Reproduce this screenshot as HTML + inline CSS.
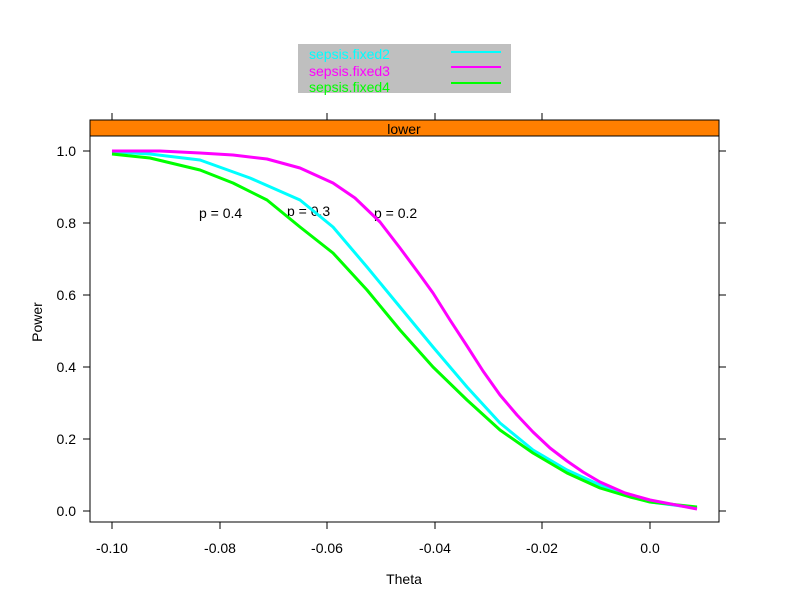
<!DOCTYPE html>
<html><head><meta charset="utf-8"><style>body{margin:0;background:#fff}svg{display:block}text{font-family:"Liberation Sans",Arial,sans-serif}</style></head>
<body>
<svg width="792" height="611" viewBox="0 0 792 611" xmlns="http://www.w3.org/2000/svg">
<rect width="792" height="611" fill="#fff"/>
<rect x="298" y="44" width="213" height="49" fill="#bfbfbf"/>
<text x="309" y="59" font-size="14" fill="#00ffff">sepsis.fixed2</text>
<text x="309" y="76" font-size="14" fill="#ff00ff">sepsis.fixed3</text>
<text x="309" y="92" font-size="14" fill="#00ff00">sepsis.fixed4</text>
<line x1="451" y1="52" x2="501" y2="52" stroke="#00ffff" stroke-width="2"/>
<line x1="451" y1="67" x2="501" y2="67" stroke="#ff00ff" stroke-width="2"/>
<line x1="451" y1="83" x2="501" y2="83" stroke="#00ff00" stroke-width="2"/>
<rect x="90" y="120" width="629" height="16" fill="#ff7f00" stroke="#000"/>
<text x="404" y="134" font-size="14" text-anchor="middle">lower</text>
<rect x="90" y="136" width="629" height="386" fill="none" stroke="#000"/>
<g stroke="#000">
<line x1="112" y1="113" x2="112" y2="120"/><line x1="327" y1="113" x2="327" y2="120"/><line x1="435" y1="113" x2="435" y2="120"/><line x1="542" y1="113" x2="542" y2="120"/>
<line x1="112" y1="522" x2="112" y2="529"/><line x1="220" y1="522" x2="220" y2="529"/><line x1="327" y1="522" x2="327" y2="529"/><line x1="435" y1="522" x2="435" y2="529"/><line x1="542" y1="522" x2="542" y2="529"/><line x1="650" y1="522" x2="650" y2="529"/>
<line x1="83" y1="151" x2="90" y2="151"/><line x1="83" y1="223" x2="90" y2="223"/><line x1="83" y1="295" x2="90" y2="295"/><line x1="83" y1="367" x2="90" y2="367"/><line x1="83" y1="439" x2="90" y2="439"/><line x1="83" y1="511" x2="90" y2="511"/>
<line x1="719" y1="151" x2="726" y2="151"/><line x1="719" y1="223" x2="726" y2="223"/><line x1="719" y1="295" x2="726" y2="295"/><line x1="719" y1="367" x2="726" y2="367"/><line x1="719" y1="439" x2="726" y2="439"/><line x1="719" y1="511" x2="726" y2="511"/>
</g>
<g font-size="14" text-anchor="middle">
<text x="112" y="553">-0.10</text><text x="220" y="553">-0.08</text><text x="327" y="553">-0.06</text><text x="435" y="553">-0.04</text><text x="542" y="553">-0.02</text><text x="650" y="553">0.0</text>
<text x="404" y="584">Theta</text>
</g>
<g font-size="14" text-anchor="end">
<text x="76" y="156">1.0</text><text x="76" y="228">0.8</text><text x="76" y="300">0.6</text><text x="76" y="372">0.4</text><text x="76" y="444">0.2</text><text x="76" y="516">0.0</text>
</g>
<text transform="translate(42,322) rotate(-90)" font-size="14" text-anchor="middle">Power</text>
<g font-size="14"><text x="199" y="218">p = 0.4</text><text x="287" y="216">p = 0.3</text><text x="374" y="218">p = 0.2</text></g>
<g fill="none" stroke-width="3" stroke-linejoin="round">
<polyline stroke="#00ffff" points="112,152 150,154 200,160 250,178 300,200 333,227 367,267 400,307 433,347 467,387 500,423 533,450 567,470 600,485 630,496 650,502 697,508"/>
<polyline stroke="#00ff00" points="112,154 150,158 200,170 233,183 267,200 300,227 333,253 367,290 400,330 433,367 467,400 500,430 533,453 567,473 600,488 630,497 650,502 697,507"/>
<polyline stroke="#ff00ff" points="112,151 160,151 200,153 233,155 267,159 300,168 333,183 355,198 380,222 400,248 420,275 433,293 450,320 467,346 483,371 500,395 517,415 533,432 550,448 567,461 583,472 600,482 625,493 650,500 697,509"/>
</g>
</svg>
</body></html>
